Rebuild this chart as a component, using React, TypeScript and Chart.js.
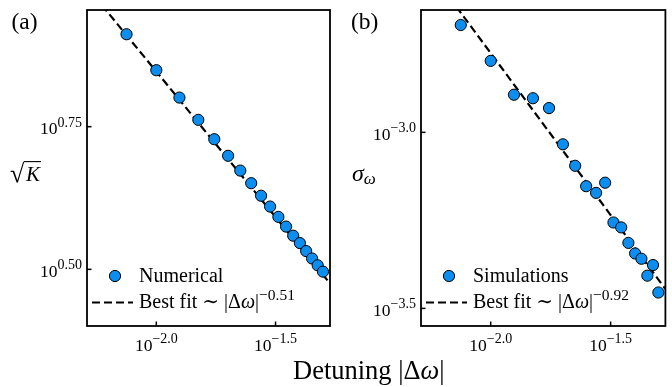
import React, { useEffect, useRef } from 'react';
import { Chart, registerables } from 'chart.js';

Chart.register(...registerables);

// ---- data ----
const detuning = [0.0075, 0.01, 0.0125, 0.015, 0.0175, 0.02, 0.0225, 0.025, 0.0275, 0.03, 0.0325, 0.035, 0.0375, 0.04, 0.0425, 0.045, 0.0475, 0.05];
const sqrtK = [8.166, 7.063, 6.324, 5.781, 5.346, 5.0, 4.71, 4.477, 4.256, 4.074, 3.908, 3.758, 3.622, 3.516, 3.404, 3.304, 3.214, 3.133];
const sigmaOmega = [2.018e-3, 1.596e-3, 1.279e-3, 1.25e-3, 1.172e-3, 9.247e-4, 8.035e-4, 7.031e-4, 6.73e-4, 7.194e-4, 5.546e-4, 5.37e-4, 4.853e-4, 4.529e-4, 4.375e-4, 3.917e-4, 4.198e-4, 3.508e-4];
const fitX = [0.0051, 0.0535];
const fitSqrtK = [9.9, 2.988];
const fitSigma = [3.119e-3, 3.589e-4];
const xRange = [0.00512, 0.0535];
const yRangeA = [2.516, 9.005];
const yRangeB = [2.818e-4, 2.226e-3];
const xTickValues = [0.01, 0.031623];
const xTickLabels = ['\u22122.0', '\u22121.5'];
const yTickValuesA = [3.1623, 5.6234];
const yTickLabelsA = ['0.50', '0.75'];
const yTickValuesB = [3.1623e-4, 1e-3];
const yTickLabelsB = ['\u22123.5', '\u22123.0'];
const legendNameA = 'Numerical';
const legendNameB = 'Simulations';
const fitExponentA = '\u22120.51';
const fitExponentB = '\u22120.92';

const SERIF = '"Liberation Serif", "DejaVu Serif", serif';
const BLUE = '#0b8ef0';

type Run = { t: string; size: number; italic?: boolean; dy?: number };

function fontOf(r: Run) {
  return `${r.italic ? 'italic ' : ''}${r.size}px ${SERIF}`;
}
function measureRuns(ctx: CanvasRenderingContext2D, runs: Run[]) {
  let w = 0;
  for (const r of runs) {
    ctx.font = fontOf(r);
    w += ctx.measureText(r.t).width;
  }
  return w;
}
function drawRuns(ctx: CanvasRenderingContext2D, x: number, y: number, runs: Run[]) {
  let cx = x;
  for (const r of runs) {
    ctx.font = fontOf(r);
    ctx.fillText(r.t, cx, y + (r.dy ?? 0));
    cx += ctx.measureText(r.t).width;
  }
  return cx;
}
function powerRuns(exp: string): Run[] {
  return [
    { t: '10', size: 17.5 },
    { t: exp, size: 14, dy: -7.5 },
  ];
}

interface PanelCfg {
  yTickValues: number[];
  yTickLabels: string[];
  panelLabel: string;
  panelLabelX: number;
  legendName: string;
  fitExponent: string;
  yLabel: 'sqrtK' | 'sigma';
  yLabelX: number;
  withXLabel: boolean;
}

function makePlugin(cfg: PanelCfg) {
  return {
    id: 'panelDecor',
    afterDraw(chart: any) {
      const ctx: CanvasRenderingContext2D = chart.ctx;
      const { left, right, top, bottom } = chart.chartArea;
      const xs = chart.scales.x;
      const ys = chart.scales.y;
      ctx.save();
      ctx.fillStyle = '#000';
      ctx.strokeStyle = '#000';
      ctx.textBaseline = 'alphabetic';
      ctx.textAlign = 'left';

      // frame
      ctx.lineWidth = 1.8;
      ctx.strokeRect(left, top, right - left, bottom - top);

      // x ticks
      ctx.lineWidth = 1.5;
      xTickValues.forEach((v, i) => {
        const px = xs.getPixelForValue(v);
        ctx.beginPath();
        ctx.moveTo(px, bottom);
        ctx.lineTo(px, bottom - 4.5);
        ctx.stroke();
        const runs = powerRuns(xTickLabels[i]);
        const w = measureRuns(ctx, runs);
        drawRuns(ctx, px - w / 2, bottom + 24.5, runs);
      });
      // y ticks
      cfg.yTickValues.forEach((v, i) => {
        const py = ys.getPixelForValue(v);
        ctx.beginPath();
        ctx.moveTo(left, py);
        ctx.lineTo(left + 4.5, py);
        ctx.stroke();
        const runs = powerRuns(cfg.yTickLabels[i]);
        const w = measureRuns(ctx, runs);
        drawRuns(ctx, left - 5 - w, py + 7.5, runs);
      });

      // panel label
      drawRuns(ctx, cfg.panelLabelX, 28.5, [{ t: cfg.panelLabel, size: 23.5 }]);

      // y label
      if (cfg.yLabel === 'sqrtK') {
        const rad: Run = { t: '\u221A', size: 26 };
        ctx.font = fontOf(rad);
        const m = ctx.measureText(rad.t);
        const radBase = 182;
        ctx.fillText(rad.t, cfg.yLabelX, radBase);
        const radTop = radBase - m.actualBoundingBoxAscent;
        const radRight = cfg.yLabelX + m.actualBoundingBoxRight;
        const kEnd = drawRuns(ctx, radRight + 1, 180.5, [{ t: 'K', size: 21, italic: true }]);
        ctx.lineWidth = 1.1;
        ctx.beginPath();
        ctx.moveTo(radRight - 1, radTop + 0.6);
        ctx.lineTo(kEnd + 1, radTop + 0.6);
        ctx.stroke();
      } else {
        drawRuns(ctx, cfg.yLabelX, 180.5, [
          { t: '\u03C3', size: 24, italic: true },
          { t: '\u03C9', size: 17, italic: true, dy: 3 },
        ]);
      }

      // legend
      const mx = left + 28;
      const my = bottom - 50;
      ctx.beginPath();
      ctx.arc(mx, my, 5.6, 0, Math.PI * 2);
      ctx.fillStyle = BLUE;
      ctx.fill();
      ctx.lineWidth = 1;
      ctx.strokeStyle = '#000';
      ctx.stroke();
      ctx.fillStyle = '#000';
      drawRuns(ctx, left + 52, bottom - 44.5, [{ t: cfg.legendName, size: 20 }]);

      ctx.lineWidth = 2.2;
      ctx.setLineDash([8, 4]);
      ctx.beginPath();
      ctx.moveTo(left + 5, bottom - 23.5);
      ctx.lineTo(left + 46, bottom - 23.5);
      ctx.stroke();
      ctx.setLineDash([]);
      drawRuns(ctx, left + 52, bottom - 18, [
        { t: 'Best fit \u223C |\u0394', size: 20 },
        { t: '\u03C9', size: 20, italic: true },
        { t: '|', size: 20 },
        { t: cfg.fitExponent, size: 15.5, dy: -8.5 },
      ]);

      // shared x label
      if (cfg.withXLabel) {
        drawRuns(ctx, 293, 379, [
          { t: 'Detuning |\u0394', size: 26.5 },
          { t: '\u03C9', size: 26.5, italic: true },
          { t: '|', size: 26.5 },
        ]);
      }
      ctx.restore();
    },
  };
}

function makeChart(
  canvas: HTMLCanvasElement,
  yData: number[],
  fitY: number[],
  yRange: number[],
  padding: { left: number; right: number; top: number; bottom: number },
  cfg: PanelCfg
) {
  return new Chart(canvas, {
    type: 'scatter',
    data: {
      datasets: [
        {
          data: detuning.map((d, i) => ({ x: d, y: yData[i] })),
          pointRadius: 5.6,
          pointBackgroundColor: BLUE,
          pointBorderColor: '#000',
          pointBorderWidth: 1,
          showLine: false,
          clip: false,
          order: 0,
        } as any,
        {
          data: fitX.map((d, i) => ({ x: d, y: fitY[i] })),
          showLine: true,
          pointRadius: 0,
          borderColor: '#000',
          borderWidth: 2.2,
          borderDash: [8, 4],
          fill: false,
          order: 1,
        } as any,
      ],
    },
    options: {
      responsive: false,
      animation: false,
      events: [],
      layout: { padding },
      scales: {
        x: { type: 'logarithmic', min: xRange[0], max: xRange[1], display: false },
        y: { type: 'logarithmic', min: yRange[0], max: yRange[1], display: false },
      },
      plugins: { legend: { display: false }, tooltip: { enabled: false } },
    },
    plugins: [makePlugin(cfg)],
  } as any);
}

export default function App() {
  const refA = useRef<HTMLCanvasElement>(null);
  const refB = useRef<HTMLCanvasElement>(null);

  useEffect(() => {
    const a = makeChart(refA.current!, sqrtK, fitSqrtK, yRangeA, { left: 87, right: 342, top: 10, bottom: 61 }, {
      yTickValues: yTickValuesA,
      yTickLabels: yTickLabelsA,
      panelLabel: '(a)',
      panelLabelX: 11.5,
      legendName: legendNameA,
      fitExponent: fitExponentA,
      yLabel: 'sqrtK',
      yLabelX: 10,
      withXLabel: true,
    });
    const b = makeChart(refB.current!, sigmaOmega, fitSigma, yRangeB, { left: 85, right: 6, top: 10, bottom: 61 }, {
      yTickValues: yTickValuesB,
      yTickLabels: yTickLabelsB,
      panelLabel: '(b)',
      panelLabelX: 15,
      legendName: legendNameB,
      fitExponent: fitExponentB,
      yLabel: 'sigma',
      yLabelX: 16,
      withXLabel: false,
    });
    return () => {
      a.destroy();
      b.destroy();
    };
  }, []);

  return (
    <div style={{ position: 'absolute', left: 0, top: 0, width: 672, height: 387, background: '#fff' }}>
      <canvas ref={refA} width={672} height={387} style={{ position: 'absolute', left: 0, top: 0 }} />
      <canvas ref={refB} width={336} height={387} style={{ position: 'absolute', left: 336, top: 0 }} />
    </div>
  );
}
